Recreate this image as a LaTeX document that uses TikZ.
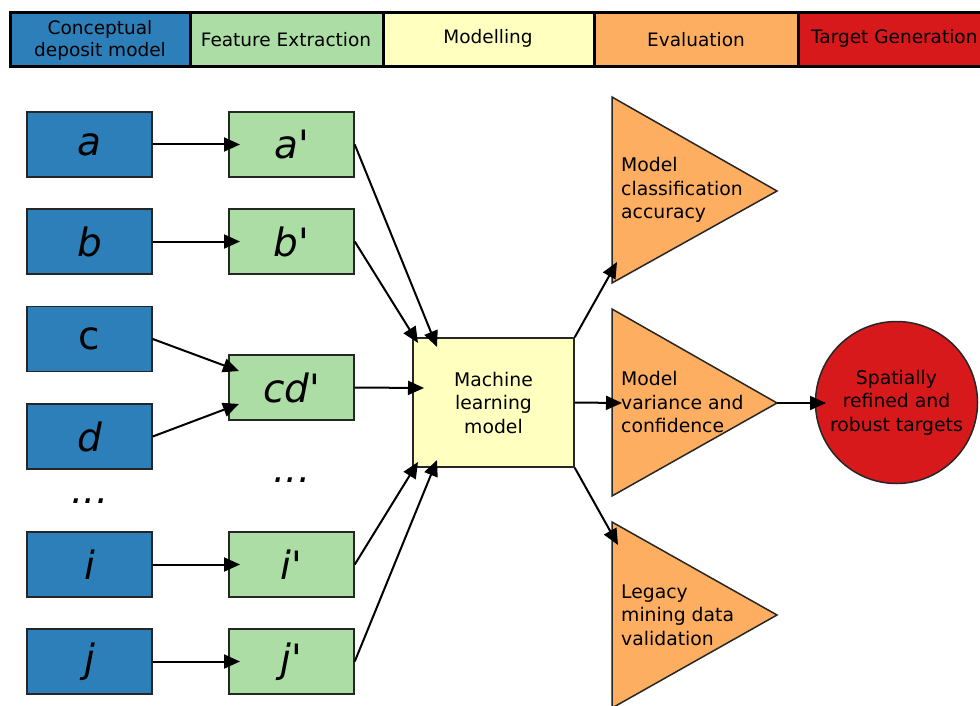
\documentclass[tikz,border=0pt]{standalone}
\usepackage{fontspec}
\setmainfont{DejaVu Sans}
\newfontfamily\plainq{DejaVu Sans}
\usetikzlibrary{arrows.meta}
\definecolor{cblue}{HTML}{2C7FB8}
\definecolor{cgreen}{HTML}{ABDDA4}
\definecolor{cyellow}{HTML}{FFFFBF}
\definecolor{corange}{HTML}{FDAE61}
\definecolor{cred}{HTML}{D7191C}
\definecolor{edge}{HTML}{262626}
\newcommand{\pr}{{\upshape\plainq '}}
\tikzset{
  hdr/.style={draw=black, line width=3pt},
  hdrtext/.style={font=\fontsize{18.5}{22}\selectfont, align=center, inner sep=0},
  bbox/.style={draw=edge, line width=1.5pt, fill=cblue, minimum width=125pt, minimum height=65pt, inner sep=0,
    font=\fontsize{39}{42}\selectfont\itshape},
  gbox/.style={bbox, fill=cgreen},
  body/.style={font=\fontsize{18.8}{23.5}\selectfont, inner sep=0},
  conn/.style={line width=2pt, -{Triangle[length=16pt,width=14pt]}},
  tri/.style={draw=edge, line width=1.5pt, fill=corange, line join=miter},
  dots/.style={inner sep=0, font=\fontsize{38}{40}\selectfont\itshape},
}
\begin{document}
\begin{tikzpicture}[x=1pt,y=-1pt]
\useasboundingbox (0,0) rectangle (980,706);
% header
\fill[cblue] (10,13) rectangle (190,67);
\fill[cgreen] (190,13) rectangle (383,67);
\fill[cyellow] (383,13) rectangle (594,67);
\fill[corange] (594,13) rectangle (798,67);
\fill[cred] (798,13) rectangle (1000,67);
\draw[hdr] (10,13) rectangle (1000,67);
\draw[hdr] (190,13) -- (190,67);
\draw[hdr] (383,13) -- (383,67);
\draw[hdr] (594,13) -- (594,67);
\draw[hdr] (798,13) -- (798,67);
\node[hdrtext] (h1) at (100,40) {Conceptual\\deposit model};
\node[hdrtext] (h2) at (286,40) {Feature Extraction};
\node[hdrtext] (h3) at (488,38) {Modelling};
\node[hdrtext] (h4) at (696,40) {Evaluation};
\node[hdrtext, anchor=west] (h5) at (811,38) {Target Generation};
% left column
\node[bbox] (a) at (89.5,144.5) {a};
\node[bbox] (b) at (89.5,241.5) {b};
\node[bbox] (c) at (89.5,339) {\upshape c};
\node[bbox] (d) at (89.5,436.5) {d};
\node[dots] (ld) at (90,501) {...};
\node[bbox] (i) at (89.5,564.5) {i};
\node[bbox] (j) at (89.5,661.5) {j};
% feature column
\node[gbox] (a1) at (291.5,144.5) {a\pr};
\node[gbox] (b1) at (291.5,241.5) {b\pr};
\node[gbox] (cd) at (291.5,387.5) {cd\pr};
\node[dots] (md) at (292,480) {...};
\node[gbox] (i1) at (291.5,564.5) {i\pr};
\node[gbox] (j1) at (291.5,661.5) {j\pr};
% ML
\node[draw=edge, line width=1.5pt, fill=cyellow, minimum width=161pt, minimum height=129pt, inner sep=0,
  body, align=center] (ml) at (493.5,402.5) {Machine\\learning\\model};
% triangles
\draw[tri] (612,97) -- (777,191) -- (612,283) -- cycle;
\draw[tri] (612,309) -- (777,403) -- (612,496) -- cycle;
\draw[tri] (612,522) -- (777,615) -- (612,708) -- cycle;
\coordinate (t2apex) at (777,403);
\node[body, align=left, anchor=west] (e1) at (621,190) {Model\\classification\\accuracy};
\node[body, align=left, anchor=west] (e2) at (621,402) {Model\\variance and\\confidence};
\node[body, align=left, anchor=west] (e3) at (621,615) {Legacy\\mining data\\validation};
% circle
\node[circle, draw=edge, line width=1.5pt, fill=cred, minimum size=162pt, inner sep=0, body, align=center]
  (tg) at (896.5,402.5) {Spatially\\refined and\\robust targets};
% tip coordinates
\coordinate (ta1) at (240,144.5);
\coordinate (tb1) at (240,241.5);
\coordinate (tc) at (239,371);
\coordinate (td) at (239,404);
\coordinate (ti1) at (240,564.5);
\coordinate (tj1) at (240,661.5);
\coordinate (mla) at (437,347);
\coordinate (mlb) at (418,343);
\coordinate (mlcd) at (424,388);
\coordinate (mli) at (418,462);
\coordinate (mlj) at (437,460);
\coordinate (te1) at (617,262);
\coordinate (te2) at (622,403);
\coordinate (te3) at (618,545);
\coordinate (ttg) at (826,403);
% connectors
\draw[conn] (a.east) -- (ta1);
\draw[conn] (b.east) -- (tb1);
\draw[conn] (c.east) -- (tc);
\draw[conn] (d.east) -- (td);
\draw[conn] (i.east) -- (ti1);
\draw[conn] (j.east) -- (tj1);
\draw[conn] (a1.east) -- (mla);
\draw[conn] (b1.east) -- (mlb);
\draw[conn] (cd.east) -- (mlcd);
\draw[conn] (i1.east) -- (mli);
\draw[conn] (j1.east) -- (mlj);
\draw[conn] (ml.north east) -- (te1);
\draw[conn] (ml.east) -- (te2);
\draw[conn] (ml.south east) -- (te3);
\draw[conn] (t2apex) -- (ttg);
\end{tikzpicture}
\end{document}
